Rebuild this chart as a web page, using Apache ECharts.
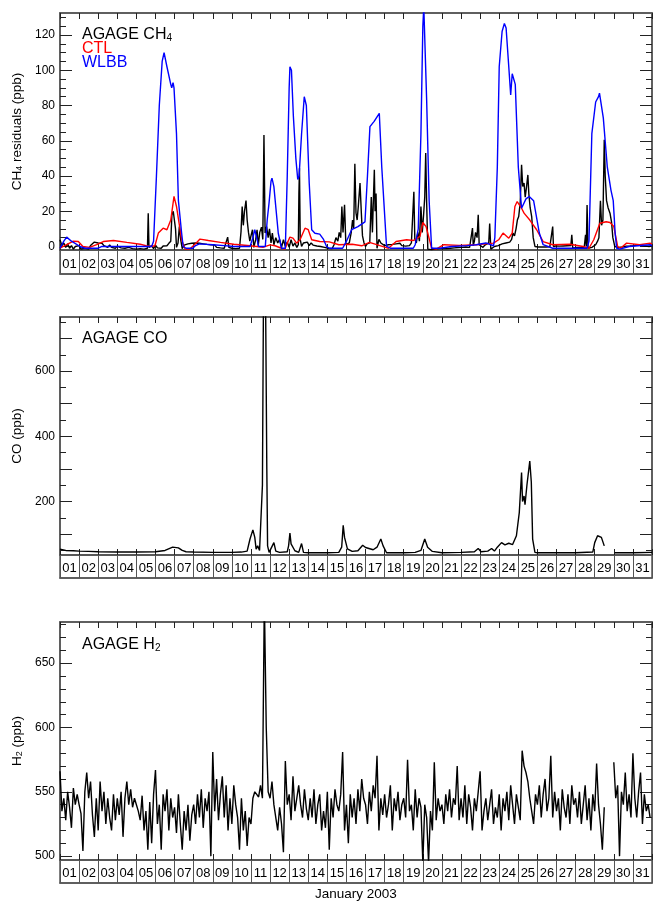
<!DOCTYPE html>
<html>
<head>
<meta charset="utf-8">
<title>AGAGE January 2003</title>
<script src="https://cdn.jsdelivr.net/npm/echarts@6/dist/echarts.min.js"></script>
<style>
html, body { margin: 0; padding: 0; background: #fff; }
#main { width: 653px; height: 901px; }
</style>
</head>
<body>
<div id="main"></div>
<script>
// day boxes under each panel
var dayLabels = ['01','02','03','04','05','06','07','08','09','10','11','12','13','14','15','16',
  '17','18','19','20','21','22','23','24','25','26','27','28','29','30','31'];

// y ticks
var ch4Labels = [0, 20, 40, 60, 80, 100, 120];
var ch4Major = [0, 20, 40, 60, 80, 100, 120];
var ch4Minor = [5, 10, 15, 25, 30, 35, 45, 50, 55, 65, 70, 75, 85, 90, 95, 105, 110, 115, 125, 130];
var coLabels = [200, 400, 600];
var coMajor = [100, 200, 300, 400, 500, 600, 700];
var coMinor = [50, 150, 250, 350, 450, 550, 650, 750];
var h2Labels = [500, 550, 600, 650];
var h2Major = [500, 550, 600, 650];
var h2Minor = [510, 520, 530, 540, 560, 570, 580, 590, 610, 620, 630, 640, 660, 670, 680];

// [day since 1 Jan 00:00, ppb]
var ch4Obs = [
  [0,3.8],[0.1,0.5],[0.2,2],[0.3,-0.5],[0.4,1.5],[0.5,-1],[0.6,0.5],[0.7,-1.5],[0.8,0],[0.9,-1],
  [1.0,0.5],[1.1,-1.5],[1.2,-0.5],[1.3,-1],[1.4,0],[1.5,-1.5],[1.6,0.5],[1.7,1],[1.8,2.5],[1.9,1.5],
  [2.0,2],[2.1,1],[2.2,1.8],[2.3,0.5],[2.4,1.2],[2.5,-0.5],[2.6,0.8],[2.7,-0.5],[2.8,0.5],[2.9,-1],
  [3.0,0.2],[3.1,0.8],[3.2,-0.8],[3.3,0.3],[3.4,-1],[3.5,0],[3.6,-0.5],[3.7,0.4],[3.8,-1.2],[3.9,-0.3],
  [4.0,-1.5],[4.1,-0.5],[4.2,-1.2],[4.3,-0.4],[4.4,-1.5],[4.5,-0.6],[4.58,-1],[4.62,18.9],[4.66,-0.5],[4.72,-1.5],
  [4.8,0.5],[4.9,-1.2],[5.0,0.8],[5.1,-0.8],[5.2,0.2],[5.3,-1],[5.4,0.3],[5.5,1.2],[5.6,0.4],[5.7,1.8],
  [5.8,3],[5.86,18],[5.93,20],[6.0,19],[6.05,10],[6.1,-0.5],[6.18,2],[6.25,11.3],[6.32,4],[6.4,-1.2],
  [6.5,0.8],[6.6,0.3],[6.7,1.5],[6.8,0.8],[6.9,1.8],[7.0,1],[7.1,2],[7.2,1.2],[7.3,1.8],[7.4,0.8],
  [7.5,1.5],[7.6,0.5],[7.7,1.2],[7.8,0.3],[7.9,1],[8.0,0],[8.1,0.8],[8.2,-0.5],[8.3,0.5],[8.4,-0.8],
  [8.5,0.2],[8.6,-1],[8.7,0],[8.78,5.3],[8.84,-0.5],[8.9,-1.5],[9.0,-1],[9.1,-1.5],[9.2,-1.2],[9.3,-1.8],
  [9.4,-1],[9.48,8.5],[9.54,22.7],[9.6,12],[9.66,20],[9.74,26],[9.8,15],[9.87,8],[9.94,3],[10.0,6],
  [10.08,9.5],[10.15,-0.5],[10.25,4],[10.32,9.5],[10.38,0.5],[10.46,8],[10.55,11],[10.62,4],[10.68,63.3],[10.74,7.6],
  [10.82,11.3],[10.9,5],[10.97,10],[11.05,2],[11.12,7.6],[11.2,1],[11.3,5],[11.4,2],[11.5,4],[11.6,-0.5],
  [11.7,3.8],[11.8,0],[11.9,2.5],[12.0,-0.5],[12.1,3.8],[12.2,0.2],[12.3,2],[12.4,-0.5],[12.48,1],[12.51,30],
  [12.54,44.4],[12.58,4],[12.65,0],[12.75,2],[12.85,1],[12.95,2.5],[13.05,0.5],[13.15,2],[13.25,0.8],[13.35,1.5],
  [13.45,0.3],[13.55,1.2],[13.65,0],[13.75,1],[13.85,-0.5],[13.95,0.5],[14.05,-1],[14.15,0],[14.25,-1.2],[14.35,1],
  [14.45,5],[14.55,3],[14.62,8],[14.7,5],[14.76,22.7],[14.82,8],[14.9,23.6],[14.97,1],[15.05,0.5],[15.15,2],
  [15.25,8],[15.32,15],[15.38,10],[15.44,47],[15.5,19],[15.56,15],[15.62,22.7],[15.71,36],[15.78,19],[15.84,6],
  [15.92,2],[16.0,0],[16.08,1.5],[16.15,0.5],[16.22,2],[16.3,28],[16.36,8],[16.42,30],[16.46,43.5],[16.5,20],
  [16.55,30],[16.6,-1],[16.7,4],[16.8,2],[16.9,3],[17.0,0.5],[17.1,-0.5],[17.2,1],[17.3,0.2],[17.4,1.2],
  [17.5,0.5],[17.6,1.5],[17.7,0.8],[17.8,1.8],[17.9,0.5],[18.0,1.5],[18.1,0.2],[18.2,1.2],[18.3,0.5],[18.4,2],
  [18.48,1],[18.53,31],[18.58,4],[18.66,2],[18.74,8],[18.82,3],[18.9,22.7],[18.97,8],[19.04,18],[19.1,28],
  [19.15,53],[19.2,25],[19.26,-1.5],[19.35,-1],[19.45,-1.8],[19.55,-0.8],[19.65,-1.5],[19.75,-0.5],[19.85,-1.2],[19.95,-0.3],
  [20.05,-1],[20.15,-0.2],[20.25,-1.2],[20.35,-0.4],[20.45,-1],[20.55,0],[20.65,-0.8],[20.75,0.2],[20.85,-0.6],[20.95,0.3],
  [21.05,-0.5],[21.15,0.5],[21.25,-0.3],[21.35,0.4],[21.45,-0.5],[21.55,0.5],[21.6,10.4],[21.64,0.5],[21.7,3],[21.76,8],
  [21.84,5],[21.9,18],[21.95,1],[22.05,0.5],[22.15,-0.5],[22.25,0.8],[22.35,0],[22.45,2],[22.5,13],[22.56,-1.5],
  [22.65,-0.5],[22.75,0],[22.85,-0.8],[22.95,0.5],[23.05,-0.3],[23.15,1.5],[23.25,0.5],[23.35,2],[23.45,1],[23.55,2.5],
  [23.65,4],[23.72,7.6],[23.8,6],[23.88,10],[23.95,15],[24.02,17],[24.1,25],[24.17,46.3],[24.23,34],[24.3,36],
  [24.36,28],[24.42,33],[24.5,40.6],[24.55,30],[24.62,22],[24.7,17],[24.78,5],[24.87,0],[24.95,0.5],[25.05,-0.3],
  [25.15,0.4],[25.25,-0.2],[25.35,0.5],[25.45,-0.3],[25.55,0.3],[25.65,-0.2],[25.75,0.5],[25.8,11.3],[25.84,0],[25.95,0.3],
  [26.05,-0.5],[26.15,0.2],[26.25,-0.4],[26.35,0.3],[26.45,-0.3],[26.55,0.4],[26.65,-0.5],[26.75,0.5],[26.8,6.6],[26.85,-1],
  [26.95,0],[27.05,-0.5],[27.15,0.3],[27.25,-0.5],[27.35,0.4],[27.45,-0.6],[27.52,6.6],[27.56,0],[27.6,23.6],[27.65,-1],
  [27.75,0],[27.85,-0.5],[27.95,0.5],[28.05,1],[28.15,3],[28.22,5],[28.3,26],[28.36,12],[28.43,15],[28.5,60.5],
  [28.55,40],[28.62,26],[28.7,22],[28.8,18.9],[28.88,14],[28.95,5],[29.05,0],[29.15,-1],[29.25,-0.5],[29.35,0.5],
  [29.45,-0.3],[29.55,0.8],[29.65,0.2],[29.75,1],[29.85,0.3],[29.95,1.2],[30.05,0.5],[30.15,1.5],[30.25,0.8],[30.35,1.3],
  [30.45,0.5],[30.55,1.2],[30.65,0.3],[30.75,1],[30.85,0],[30.95,0.8],[31,0.5]
];

var ch4Ctl = [
  [0,-1],[0.35,1],[0.7,3],[0.96,2.8],[1.2,0],[1.55,-0.5],[1.92,1],[2.27,2.8],[2.8,3.4],[3.5,2.3],
  [4.2,1.3],[4.5,0.4],[4.75,0],[4.97,0.4],[5.15,7.6],[5.4,10.4],[5.6,9.5],[5.8,15],[5.97,28.4],[6.1,22.7],
  [6.37,3.8],[6.55,-1.5],[6.8,-1.5],[7.16,2.3],[7.33,4.2],[7.77,3.4],[8.4,2.3],[9.1,1.3],[9.95,0.4],[10.3,0],
  [10.65,-0.4],[11.0,0.9],[11.26,0.4],[11.6,-1],[11.78,-1.5],[11.9,1.9],[12.04,5.3],[12.2,4.7],[12.39,1.9],[12.57,3.8],
  [12.83,10.4],[13.0,9.5],[13.18,3.8],[13.6,2.8],[14.1,2.6],[14.6,1],[15.3,1.3],[15.8,0.4],[16.2,2.3],[16.5,1.3],
  [17.0,-0.4],[17.2,-1],[17.6,2.8],[18.15,3.8],[18.5,3.4],[18.85,5.7],[19.0,13.6],[19.17,11.3],[19.46,-1],[19.7,-1.5],
  [20.1,1],[20.9,0.6],[21.8,1],[22.7,1.9],[22.97,3.8],[23.2,7.6],[23.5,4.7],[23.68,7.6],[23.82,22.7],[23.94,25.5],
  [24.17,21.7],[24.3,18.9],[24.6,15],[24.96,9.5],[25.3,2.8],[25.8,1],[26.7,1.3],[27.4,0],[27.7,-1],[27.95,3.8],
  [28.27,13.2],[28.6,14],[28.8,13.6],[29.0,11.3],[29.2,0],[29.35,-1],[29.67,1.9],[30.35,1],[30.9,1.9],[31,1.5]
];

var ch4Wlbb = [
  [0,-1],[0.2,3],[0.35,5.3],[0.6,3],[1.05,0],[1.3,-1],[2.0,-1],[2.2,0],[3,0],[4,0],
  [4.8,0],[4.9,3],[5.05,40],[5.2,80],[5.35,105],[5.45,110],[5.6,102],[5.8,92],[5.85,90],[5.92,93],
  [5.97,90],[6.1,64],[6.2,26],[6.37,7.5],[6.45,0],[6.6,-1],[6.95,-1],[7.1,0.5],[7.3,1.5],[8,1],
  [8.6,0.5],[9.1,0],[9.95,0],[10.1,5],[10.2,9.5],[10.3,5],[10.4,0],[10.75,0],[10.85,15],[10.95,25],
  [11.05,37],[11.1,38.8],[11.2,34],[11.43,7.5],[11.6,-1],[11.8,-1],[11.9,40],[12.0,90],[12.04,102],[12.12,100],
  [12.22,74],[12.35,50],[12.45,38],[12.52,40],[12.65,64],[12.79,85],[12.9,80],[13.05,36],[13.18,9.5],[13.35,7.5],
  [13.6,7],[13.8,4],[13.96,0],[14.1,-1],[14.8,-1],[15.0,3],[15.27,9.5],[15.6,11.3],[15.97,14],[16.1,40],
  [16.23,68],[16.45,71],[16.72,75.6],[16.85,45],[17.1,0],[17.3,-1],[18.5,-1],[18.6,1],[18.76,10],[18.9,64],
  [19.0,125],[19.05,136],[19.1,136],[19.2,83],[19.33,26],[19.46,-1],[19.9,-1],[20.5,0],[21.3,0.5],[21.8,1],
  [22.3,2],[22.7,0.4],[22.77,5],[22.9,45],[23.0,102],[23.15,122],[23.27,126.6],[23.36,124],[23.5,102],[23.6,86],
  [23.68,98],[23.77,99],[23.84,92],[24.0,45],[24.17,21.7],[24.4,27],[24.57,28.4],[24.8,26],[25.1,7.6],[25.3,1],
  [25.8,-1],[27.6,-1],[27.7,3],[27.85,64],[28.05,82],[28.2,85],[28.25,87],[28.45,73],[28.66,45],[28.85,32],
  [28.97,26],[29.07,7.5],[29.15,-1],[29.32,-1.5],[29.8,0],[30.9,1],[31,0.4]
];

var coObs = [
  [0,54],[0.3,50],[0.7,49],[1,48],[1.5,47],[2,46],[3,45],[4,45],[5,46],[5.5,50],
  [5.9,60],[6.0,64],[6.2,58],[6.4,50],[6.6,46],[7,45],[8,44],[9,44],[9.5,45],[9.8,48],
  [9.95,85],[10.1,113],[10.2,90],[10.27,54],[10.35,64],[10.45,50],[10.52,48],[10.6,250],[10.65,780],[10.77,780],
  [10.83,300],[10.87,64],[10.95,44],[11.2,74],[11.3,48],[11.5,44],[11.9,46],[11.97,64],[12.04,103],[12.1,70],
  [12.2,64],[12.3,49],[12.5,44],[12.65,71],[12.75,44],[13,43],[14,43],[14.6,44],[14.75,60],[14.83,127],
  [14.9,90],[15.05,55],[15.3,47],[15.6,49],[15.85,66],[16.0,59],[16.4,52],[16.6,60],[16.8,85],[16.92,64],
  [17.1,43],[18,43],[18.6,44],[18.9,50],[19.1,85],[19.25,60],[19.5,47],[20,43],[21,44],[21.7,46],
  [21.9,56],[22.05,46],[22.4,48],[22.6,56],[22.75,48],[22.9,60],[23.12,74],[23.3,67],[23.5,72],[23.7,68],
  [23.9,95],[24.05,166],[24.17,289],[24.22,200],[24.3,217],[24.35,190],[24.45,250],[24.6,324],[24.68,260],[24.75,85],
  [24.87,44],[25,43],[26,43],[27,43],[27.9,45],[28.0,74],[28.15,95],[28.35,90],[28.5,64],[28.75,'-'],
  [29.05,43],[30,43],[31,44]
];

// H2, one value every 0.1 day (null = no data)
var h2Step = 0.1;
var h2Obs = [
  566,535,545,528,550,538,522,553,540,548,
  540,533,504,550,565,545,558,532,515,545,
  520,558,535,550,525,545,530,520,548,528,
  545,532,550,515,545,558,540,552,538,545,
  540,535,528,547,520,535,505,542,510,548,
  567,525,540,505,548,535,552,520,545,530,
  538,518,548,525,505,535,520,540,512,532,
  540,525,548,530,552,522,545,535,550,500,
  581,535,560,528,548,562,530,555,520,545,
  525,555,540,530,505,545,520,535,508,530,
  525,545,550,548,546,555,545,700,600,550,
  545,558,540,530,520,538,525,503,574,540,
  548,528,562,535,545,555,540,530,552,537,
  528,545,530,552,525,540,548,520,535,522,
  550,505,545,530,552,540,535,548,581,520,
  540,510,548,530,545,525,552,535,560,545,
  540,525,550,535,555,545,578,520,545,532,
  548,530,540,555,520,545,535,550,528,540,
  545,530,575,535,540,520,552,530,545,538,
  495,540,530,495,535,520,573,528,545,535,
  540,525,548,535,552,530,545,540,570,528,
  545,530,555,525,548,538,520,545,535,550,
  566,520,535,545,528,540,552,525,538,530,
  548,520,545,535,550,528,555,540,525,548,
  538,528,582,570,565,558,545,535,525,548,
  540,555,530,548,560,535,545,578,530,550,
  535,545,520,552,538,530,548,525,555,540,
  545,530,550,525,540,555,528,545,520,548,
  535,572,540,525,505,538,null,null,null,null,
  573,545,555,500,550,540,565,535,548,530,
  580,545,530,550,565,525,548,535,540,530
];

var FONT = '"Liberation Sans", Arial, Helvetica, sans-serif';
var FRAME = '#555';
var TICK = '#222';

var h2Data = h2Obs.map(function (v, k) {
  return [k * h2Step, v === null ? '-' : v];
});

var nameRich = {
  n: { fontSize: 13.5, lineHeight: 14, fontFamily: FONT, color: '#000', verticalAlign: 'bottom' },
  s: { fontSize: 9, lineHeight: 4, fontFamily: FONT, color: '#000', verticalAlign: 'bottom' }
};

var panels = [
  { top: 13, height: 237, strip: 24, min: -2, max: 132.5, labels: ch4Labels, major: ch4Major, minor: ch4Minor,
    name: '{n|CH}{s|4}{n| residuals (ppb)}' },
  { top: 317, height: 238, strip: 23, min: 36, max: 766, labels: coLabels, major: coMajor, minor: coMinor,
    name: '{n|CO (ppb)}' },
  { top: 622, height: 238, strip: 23, min: 497, max: 682, labels: h2Labels, major: h2Major, minor: h2Minor,
    name: '{n|H}{s|2}{n| (ppb)}' }
];

var grids = [], xAxes = [], yAxes = [];

panels.forEach(function (p, i) {
  grids.push({ left: 60, right: 1, top: p.top, height: p.height, show: true, borderColor: FRAME, borderWidth: 1.5, backgroundColor: 'transparent' });
  grids.push({ left: 60, right: 1, top: p.top + p.height, height: p.strip, show: true, borderColor: FRAME, borderWidth: 1.5, backgroundColor: 'transparent' });

  ['bottom', 'top'].forEach(function (pos) {
    xAxes.push({
      gridIndex: 2 * i, type: 'value', min: 0, max: 31, interval: 1, position: pos,
      axisLine: { show: true, onZero: false, lineStyle: { color: FRAME, width: 1.5 } },
      axisTick: { show: true, inside: true, length: 6, lineStyle: { color: TICK, width: 1 } },
      axisLabel: { show: false },
      splitLine: { show: false }
    });
  });
  xAxes.push({
    gridIndex: 2 * i + 1, type: 'category', data: dayLabels, boundaryGap: true, position: 'bottom',
    axisLine: { show: true, onZero: false, lineStyle: { color: FRAME, width: 1.5 } },
    axisTick: { show: false },
    splitLine: { show: true, interval: 0, lineStyle: { color: FRAME, width: 1 } },
    axisLabel: { inside: true, interval: 0, margin: 3, fontSize: 13, fontFamily: FONT, color: '#000' }
  });

  ['left', 'right'].forEach(function (side) {
    yAxes.push({
      gridIndex: 2 * i, type: 'value', min: p.min, max: p.max, position: side,
      name: side === 'left' ? p.name : '',
      nameLocation: 'middle', nameGap: 35,
      nameTextStyle: { rich: nameRich },
      axisLine: { show: true, onZero: false, lineStyle: { color: FRAME, width: 1.5 } },
      axisTick: { show: true, inside: true, length: 12, customValues: p.major, lineStyle: { color: TICK, width: 1 } },
      axisLabel: side === 'left'
        ? { show: true, customValues: p.labels, margin: 5, fontSize: 12, fontFamily: FONT, color: '#000' }
        : { show: false },
      splitLine: { show: false }
    });
    yAxes.push({
      gridIndex: 2 * i, type: 'value', min: p.min, max: p.max, position: side,
      axisLine: { show: false, onZero: false },
      axisTick: { show: true, inside: true, length: 6, customValues: p.minor, lineStyle: { color: TICK, width: 1 } },
      axisLabel: { show: false },
      splitLine: { show: false }
    });
  });
  yAxes.push({ gridIndex: 2 * i + 1, type: 'value', show: false, min: 0, max: 1 });
});

function line(data, panel, color) {
  return {
    type: 'line', data: data, xAxisIndex: 3 * panel, yAxisIndex: 5 * panel,
    showSymbol: false, symbol: 'none', silent: true, animation: false,
    lineStyle: { color: color, width: 1.4 }, itemStyle: { color: color }
  };
}

var titleRich = {
  n: { fontSize: 16, lineHeight: 16, fontFamily: FONT, color: '#000', verticalAlign: 'bottom' },
  s: { fontSize: 10, lineHeight: 5, fontFamily: FONT, color: '#000', verticalAlign: 'bottom' }
};

function label(text, left, top, color) {
  return {
    text: text, left: left, top: top, padding: 0,
    textStyle: { fontSize: 16, lineHeight: 16, fontWeight: 'normal', fontFamily: FONT, color: color, rich: titleRich }
  };
}

var chart = echarts.init(document.getElementById('main'), null, { renderer: 'canvas' });
chart.setOption({
  backgroundColor: '#fff',
  animation: false,
  grid: grids,
  xAxis: xAxes,
  yAxis: yAxes,
  title: [
    label('{n|AGAGE CH}{s|4}', 82, 27, '#000'),
    label('CTL', 82, 41, '#ff0000'),
    label('WLBB', 82, 55, '#0000ff'),
    label('{n|AGAGE CO}', 82, 331, '#000'),
    label('{n|AGAGE H}{s|2}', 82, 637, '#000'),
    { text: 'January 2003', left: 315, top: 887, padding: 0,
      textStyle: { fontSize: 13.5, fontWeight: 'normal', fontFamily: FONT, color: '#000' } }
  ],
  series: [
    line(ch4Obs, 0, '#000000'),
    line(ch4Ctl, 0, '#ff0000'),
    line(ch4Wlbb, 0, '#0000ff'),
    line(coObs, 1, '#000000'),
    line(h2Data, 2, '#000000')
  ]
});
</script>
</body>
</html>
